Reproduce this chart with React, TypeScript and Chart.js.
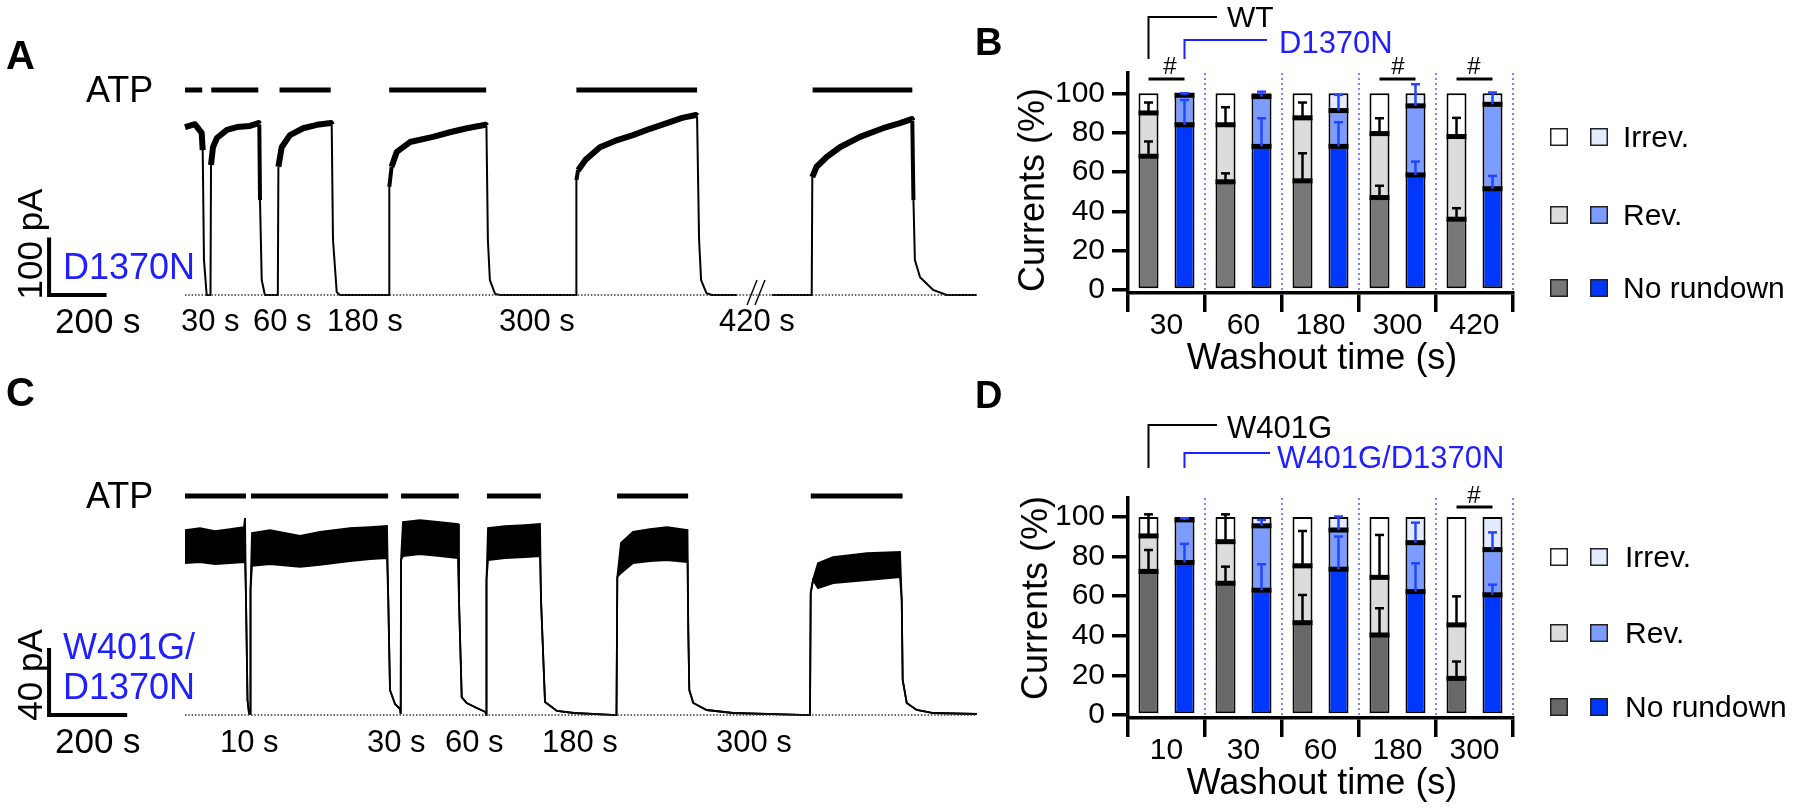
import React, { useEffect, useRef } from 'react';
import { Chart, registerables } from 'chart.js';

Chart.register(...registerables);

const FONT = "'Liberation Sans', Arial, Helvetica, sans-serif";
const BLUE_TEXT = '#1f1fff';

// ---------------- Panel A : D1370N current trace (time s, current pA) ----------------
const traceA: [number, number | null][] = [
  [0, 292], [34.8, 297], [58, 282], [61.6, 252], [66, 61], [75.5, 0], [88.7, 0], [90.5, 226], [97.4, 257],
  [111, 273], [146, 287], [181, 292], [226, 294], [256, 299], [258.6, 297], [261, 165], [267, 26], [278, 0],
  [323, 0], [325, 223], [336.5, 257], [365, 278], [411, 290], [459, 296], [508, 299], [510.5, 296], [515, 96],
  [528, 5], [539, 0], [710, 0], [711, 188], [719, 223], [737, 249], [783, 266], [863, 275], [922, 283],
  [981, 290], [1046, 296], [1049, 294], [1054, 96], [1061, 26], [1079, 2], [1096, 0], [1361, 0], [1362, 200],
  [1368, 217], [1394, 235], [1444, 257], [1496, 268], [1559, 278], [1618, 289], [1677, 299], [1730, 308],
  [1778, 313], [1782, 311], [1789, 96], [1796, 26], [1815, 3], [1834, 0], [1920, 0], [1980, null], [2042, 0],
  [2181, 0], [2183, 205], [2198, 223], [2233, 240], [2279, 257], [2349, 275], [2429, 290], [2488, 299],
  [2529, 306], [2531, 303], [2535, 165], [2540, 61], [2558, 31], [2603, 9], [2651, 0], [2755, 0],
];
const atpA: [number, number][] = [[0, 60], [91.5, 255], [329, 507], [710.6, 1048], [1362, 1782], [2184, 2531]];
const atpLevelA = 356.5;
const breakMarksA: [number, number][][] = [
  [[1956, -17.4], [1990.6, 26.1]],
  [[1983.6, -17.4], [2018.4, 26.1]],
];
const scaleBarA = { t0: -473, seconds: 200, pA: 100 };
const washoutLabelsA = ['30 s', '60 s', '180 s', '300 s', '420 s'];

// ---------------- Panel C : W401G/D1370N trace (time s, upper / lower envelope pA) ----------------
const traceC: [number, number, number][] = [
  [0, 110.4, 90.7], [38.4, 111.6, 91.3], [76.8, 109.8, 90.1], [115.2, 111, 90.7], [151, 112.2, 91.3],
  [153.6, 117.6, 92.5], [156.2, 68.7, 68.7], [160, 9, 9], [163.8, 1.2, 1.2], [166.4, 0.6, 0.6],
  [167.7, 74.6, 74.6], [171.5, 108.7, 89], [217.6, 110.4, 90.1], [294.4, 106.9, 88.4], [345.6, 109.3, 89.6],
  [422.4, 111.6, 91.9], [473.6, 112.2, 93.1], [517.1, 112.8, 93.7], [520.4, 68.7, 68.7], [524.8, 14.9, 14.9],
  [537.6, 6.6, 6.6], [550.4, 3.6, 3.6], [552.2, 0.6, 0.6], [553, 92.5, 92.5], [558, 115.2, 94.9],
  [601.6, 116.4, 96.1], [652.8, 115.2, 94.9], [698.9, 114, 93.7], [701.4, 68.7, 68.7], [708.4, 10.7, 10.7],
  [721.2, 7.2, 7.2], [746.8, 4.2, 4.2], [769.3, 1.8, 1.8], [770.6, 0, 0], [771.8, 80.6, 80.6],
  [775.7, 111.6, 92.5], [819.2, 112.8, 93.7], [870.4, 113.4, 94.3], [908.8, 114, 94.9], [911.4, 68.7, 68.7],
  [921.6, 7.8, 7.8], [952.3, 2.4, 2.4], [995.8, 1.2, 1.2], [1104.6, 0, 0], [1106.7, 82.4, 82.4],
  [1116.2, 102.7, 84.8], [1146.9, 109.3, 90.7], [1190.4, 111, 91.9], [1233.9, 112.2, 92.5], [1286.4, 110.4, 91.3],
  [1288.4, 50.7, 50.7], [1291, 14.9, 14.9], [1301.2, 7.2, 7.2], [1335.6, 3, 3], [1402.9, 1.2, 1.2],
  [1600, 0, 0], [1601.8, 72.8, 72.8], [1607.7, 80.6, 80.6], [1620.5, 90.7, 75.8], [1658.9, 94.3, 78.8],
  [1745.9, 96.7, 80.6], [1830.4, 97.3, 82.4], [1834.8, 68.7, 68.7], [1837.3, 20.9, 20.9], [1847.6, 7.2, 7.2],
  [1873.2, 3, 3], [1915.6, 1.2, 1.2], [2026.8, 0.6, 0.6],
];
const atpC: [number, number][] = [[0, 156], [169, 520], [553, 701], [773, 911], [1106, 1288], [1602, 1837]];
const atpLevelC = 130.7;
const scaleBarC = { t0: -348, seconds: 200, pA: 40 };
const washoutLabelsC = ['10 s', '30 s', '60 s', '180 s', '300 s'];

// ---------------- Panel B : WT vs D1370N (% of current) ----------------
const groupsB = ['30', '60', '180', '300', '420'];
const wtNoRundownB = [68, 55, 55.5, 47, 36];
const wtRevB = [22, 29, 32, 32.5, 42];
const wtIrrevB = [10, 16, 12.5, 20.5, 22];
const wtNoRundownErrB = [7.5, 4.3, 14, 6, 5.6];
const wtRevErrB = [5.3, 8.9, 7.8, 7.8, 9.5];
const mutNoRundownB = [84, 73, 73, 58.5, 51.5];
const mutRevB = [15, 25.3, 18.2, 35.1, 42.9];
const mutIrrevB = [1, 1.7, 8.8, 6.4, 5.6];
const mutNoRundownErrB = [12.6, 14.3, 12.3, 6.8, 6.5];
const mutRevErrB = [1, 2.5, 8, 11, 6];
const sigB = [0, 3, 4];

// ---------------- Panel D : W401G vs W401G/D1370N ----------------
const groupsD = ['10', '30', '60', '180', '300'];
const wtNoRundownD = [72.5, 66.5, 46.6, 40.4, 18.5];
const wtRevD = [17.9, 21, 28.7, 29.1, 27];
const wtIrrevD = [9.6, 12.5, 24.7, 30.5, 54.5];
const wtNoRundownErrD = [10.8, 8.4, 14, 13.5, 8.5];
const wtRevErrD = [10.9, 13.8, 17.6, 21.4, 14.4];
const mutNoRundownD = [77, 63, 73.6, 62.3, 60.7];
const mutRevD = [21.5, 32.5, 19.8, 24.7, 22.8];
const mutIrrevD = [1.5, 4.5, 6.6, 13, 16.5];
const mutNoRundownErrD = [9.4, 13.1, 16.5, 14.3, 5.1];
const mutRevErrD = [0.8, 3, 6.8, 10.1, 8.7];
const sigD = [4];

const yTicks = [0, 20, 40, 60, 80, 100];
const legendNames = ['Irrev.', 'Rev.', 'No rundown'];

// ---------------- styles ----------------
const WT_LIGHT = '#dcdcdc';
const MUT_NR = '#0037ff';
const MUT_REV = '#7d9cff';
const MUT_IRREV = '#e4ebff';
const SEP_BLUE = '#4d5cff';
const ERR_BLUE = '#2445ff';

type XY = { x: number; y: number | null };
const toXY = (arr: [number, number | null][]): XY[] => arr.map(([x, y]) => ({ x, y }));

function lineDs(data: XY[], extra: any = {}) {
  return {
    type: 'line',
    data,
    borderColor: '#000',
    borderWidth: 1.5,
    pointRadius: 0,
    fill: false,
    tension: 0,
    spanGaps: false,
    borderCapStyle: 'butt',
    ...extra,
  };
}

function traceOptions(xMin: number, xMax: number, yMin: number, yMax: number) {
  return {
    responsive: false,
    animation: false,
    events: [],
    layout: { padding: 0 },
    plugins: { legend: { display: false }, tooltip: { enabled: false } },
    scales: {
      x: { type: 'linear', display: false, min: xMin, max: xMax },
      y: { type: 'linear', display: false, min: yMin, max: yMax },
    },
  };
}

function configA() {
  const lastT = traceA[traceA.length - 1][0];
  const sb = scaleBarA;
  return {
    type: 'line',
    data: {
      datasets: [
        lineDs([{ x: 0, y: 0 }, { x: lastT, y: 0 }], { borderColor: '#333', borderWidth: 1.4, borderDash: [1.5, 1.8] }),
        lineDs(toXY(traceA), {
          borderWidth: 2,
          borderJoinStyle: 'round',
          segment: {
            borderWidth: (c: any) => (c.p0.parsed.y > 200 && c.p1.parsed.y > 200 ? 6 : c.p0.parsed.y > 150 && c.p1.parsed.y > 150 ? 4 : 2),
          },
        }),
        ...atpA.map(([s, e]) => lineDs([{ x: s, y: atpLevelA }, { x: e, y: atpLevelA }], { borderWidth: 5 })),
        lineDs([{ x: sb.t0, y: sb.pA }, { x: sb.t0, y: 0 }, { x: sb.t0 + sb.seconds, y: 0 }], {
          borderWidth: 4, borderJoinStyle: 'miter',
        }),
        ...breakMarksA.map((seg) => lineDs(toXY(seg), { borderWidth: 1.4 })),
      ],
    },
    options: traceOptions(-643.8, 2836.2, -147.8, 513),
  };
}

function configC() {
  const lastT = traceC[traceC.length - 1][0];
  const sb = scaleBarC;
  return {
    type: 'line',
    data: {
      datasets: [
        lineDs([{ x: 0, y: 0 }, { x: lastT, y: 0 }], { borderColor: '#333', borderWidth: 1.4, borderDash: [1.5, 1.8] }),
        lineDs(traceC.map(([t, u]) => ({ x: t, y: u })), { borderWidth: 1.8 }),
        lineDs(traceC.map(([t, , l]) => ({ x: t, y: l })), { borderWidth: 1.8, fill: '-1', backgroundColor: '#000' }),
        ...atpC.map(([s, e]) => lineDs([{ x: s, y: atpLevelC }, { x: e, y: atpLevelC }], { borderWidth: 5 })),
        lineDs([{ x: sb.t0, y: sb.pA }, { x: sb.t0, y: 0 }, { x: sb.t0 + sb.seconds, y: 0 }], {
          borderWidth: 4, borderJoinStyle: 'miter',
        }),
      ],
    },
    options: traceOptions(-473.6, 2086.4, -56.1, 200),
  };
}

type Stack = { nr: number[]; rev: number[]; irrev: number[]; nrErr: number[]; revErr: number[] };
type BarPanel = {
  groups: string[];
  wt: Stack;
  mut: Stack;
  sig: number[];
  greyDark: string;
  canvasTop: number;
  padTop: number;
  axisH: number;
  yMax: number;
  wtBracketY: number;
  mutBracketY: number;
  bracketBottom: number;
  wtBracketEnd: number;
  mutBracketEnd: number;
  sigY: number;
  legendY: number[];
};

const BD_LEFT = 960;

function barConfig(p: BarPanel) {
  const wtColors = ['#ffffff', WT_LIGHT, p.greyDark];
  const mutColors = [MUT_IRREV, MUT_REV, MUT_NR];
  const common = {
    borderColor: '#000',
    borderWidth: 2,
    borderSkipped: false,
    categoryPercentage: 0.935,
    barPercentage: 0.556,
  };
  const extras = {
    id: 'barExtras',
    beforeDatasetsDraw(chart: any) {
      const { ctx, chartArea, scales } = chart;
      const x = scales.x;
      const y = scales.y;
      ctx.save();
      ctx.strokeStyle = SEP_BLUE;
      ctx.lineWidth = 1.5;
      ctx.setLineDash([2, 3]);
      for (let i = 0; i < p.groups.length; i++) {
        const xp = x.getPixelForValue(i + 0.5);
        ctx.beginPath();
        ctx.moveTo(xp, y.getPixelForValue(0));
        ctx.lineTo(xp, chartArea.top);
        ctx.stroke();
      }
      ctx.restore();
    },
    afterDatasetsDraw(chart: any) {
      const { ctx, scales } = chart;
      const y = scales.y;
      const top = p.canvasTop;
      ctx.save();
      ctx.lineCap = 'butt';
      const stacks: [Stack, number, string][] = [[p.wt, 0, '#000'], [p.mut, 3, ERR_BLUE]];
      // thick boundaries between stacked segments
      for (const [s, base] of stacks) {
        const meta = chart.getDatasetMeta(base);
        for (let i = 0; i < p.groups.length; i++) {
          const el = meta.data[i];
          const half = el.width / 2;
          for (const v of [s.nr[i], s.nr[i] + s.rev[i]]) {
            const yy = y.getPixelForValue(v);
            ctx.fillStyle = '#000';
            ctx.fillRect(el.x - half, yy - 2.5, half * 2, 5);
          }
        }
      }
      for (const [s, base, col] of stacks) {
        const meta = chart.getDatasetMeta(base);
        for (let i = 0; i < p.groups.length; i++) {
          const xc = meta.data[i].x;
          const segs = [
            [s.nr[i], s.nrErr[i]],
            [s.nr[i] + s.rev[i], s.revErr[i]],
          ];
          for (const [v, e] of segs) {
            const y0 = y.getPixelForValue(v);
            const y1 = y.getPixelForValue(v + e);
            ctx.strokeStyle = col;
            ctx.lineWidth = 2.5;
            ctx.beginPath();
            ctx.moveTo(xc, y0);
            ctx.lineTo(xc, y1);
            ctx.stroke();
            ctx.beginPath();
            ctx.moveTo(xc - 4.5, y1);
            ctx.lineTo(xc + 4.5, y1);
            ctx.stroke();
          }
        }
      }
      // group brackets
      const xw = chart.getDatasetMeta(0).data[0].x;
      const xm = chart.getDatasetMeta(3).data[0].x;
      ctx.lineWidth = 2;
      ctx.strokeStyle = '#000';
      ctx.beginPath();
      ctx.moveTo(xw, p.bracketBottom - top);
      ctx.lineTo(xw, p.wtBracketY - top);
      ctx.lineTo(p.wtBracketEnd - BD_LEFT, p.wtBracketY - top);
      ctx.stroke();
      ctx.strokeStyle = BLUE_TEXT;
      ctx.beginPath();
      ctx.moveTo(xm, p.bracketBottom - top);
      ctx.lineTo(xm, p.mutBracketY - top);
      ctx.lineTo(p.mutBracketEnd - BD_LEFT, p.mutBracketY - top);
      ctx.stroke();
      // significance bars
      ctx.strokeStyle = '#000';
      ctx.lineWidth = 3;
      for (const g of p.sig) {
        const a = chart.getDatasetMeta(0).data[g].x;
        const b = chart.getDatasetMeta(3).data[g].x;
        ctx.beginPath();
        ctx.moveTo(a, p.sigY - top);
        ctx.lineTo(b, p.sigY - top);
        ctx.stroke();
      }
      // legend squares
      ctx.lineWidth = 1.5;
      ctx.strokeStyle = '#222';
      for (let r = 0; r < 3; r++) {
        const cy = p.legendY[r] - top;
        const cols = [wtColors[r], mutColors[r]];
        const xs = [1550, 1590];
        for (let k = 0; k < 2; k++) {
          ctx.fillStyle = cols[k];
          ctx.fillRect(xs[k] - BD_LEFT, cy - 9, 18, 18);
          ctx.strokeRect(xs[k] - BD_LEFT + 0.75, cy - 9 + 0.75, 16.5, 16.5);
        }
      }
      ctx.restore();
    },
  };
  return {
    type: 'bar',
    data: {
      labels: p.groups,
      datasets: [
        { label: 'WT No rundown', data: p.wt.nr, stack: 'wt', backgroundColor: p.greyDark, ...common },
        { label: 'WT Rev.', data: p.wt.rev, stack: 'wt', backgroundColor: WT_LIGHT, ...common },
        { label: 'WT Irrev.', data: p.wt.irrev, stack: 'wt', backgroundColor: '#ffffff', ...common },
        { label: 'Mut No rundown', data: p.mut.nr, stack: 'mut', backgroundColor: MUT_NR, ...common },
        { label: 'Mut Rev.', data: p.mut.rev, stack: 'mut', backgroundColor: MUT_REV, ...common },
        { label: 'Mut Irrev.', data: p.mut.irrev, stack: 'mut', backgroundColor: MUT_IRREV, ...common },
      ],
    },
    options: {
      responsive: false,
      animation: false,
      events: [],
      layout: { padding: { top: p.padTop, right: 287, left: 0, bottom: 0 } },
      plugins: { legend: { display: false }, tooltip: { enabled: false } },
      scales: {
        x: {
          stacked: true,
          afterFit: (s: any) => { s.height = p.axisH; },
          border: { display: true, width: 3.5, color: '#000' },
          grid: {
            offset: true, drawOnChartArea: false, drawTicks: true, tickLength: 19,
            tickWidth: 3.5, tickColor: '#000', color: '#000', lineWidth: 3.5,
          },
          ticks: { font: { family: FONT, size: 30 }, color: '#000', padding: -4, maxRotation: 0, autoSkip: false },
        },
        y: {
          stacked: true,
          min: -1.5,
          max: p.yMax,
          afterFit: (s: any) => { s.width = 168; },
          afterBuildTicks: (s: any) => { s.ticks = yTicks.map((v) => ({ value: v })); },
          border: { display: true, width: 3.5, color: '#000' },
          grid: {
            drawOnChartArea: false, drawTicks: true, tickLength: 16,
            tickWidth: 3.5, tickColor: '#000', color: '#000', lineWidth: 3.5,
          },
          ticks: { font: { family: FONT, size: 30 }, color: '#000', padding: 7 },
        },
      },
    },
    plugins: [extras],
  };
}

const panelB: BarPanel = {
  groups: groupsB,
  wt: { nr: wtNoRundownB, rev: wtRevB, irrev: wtIrrevB, nrErr: wtNoRundownErrB, revErr: wtRevErrB },
  mut: { nr: mutNoRundownB, rev: mutRevB, irrev: mutIrrevB, nrErr: mutNoRundownErrB, revErr: mutRevErrB },
  sig: sigB,
  greyDark: '#787878',
  canvasTop: 0, padTop: 73, axisH: 87, yMax: 110.3,
  wtBracketY: 17, mutBracketY: 40, bracketBottom: 59, wtBracketEnd: 1217, mutBracketEnd: 1267,
  sigY: 79, legendY: [137, 215, 288],
};

const panelD: BarPanel = {
  groups: groupsD,
  wt: { nr: wtNoRundownD, rev: wtRevD, irrev: wtIrrevD, nrErr: wtNoRundownErrD, revErr: wtRevErrD },
  mut: { nr: mutNoRundownD, rev: mutRevD, irrev: mutIrrevD, nrErr: mutNoRundownErrD, revErr: mutRevErrD },
  sig: sigD,
  greyDark: '#686868',
  canvasTop: 380, padTop: 117.5, axisH: 91, yMax: 109.8,
  wtBracketY: 425, mutBracketY: 453, bracketBottom: 468, wtBracketEnd: 1217, mutBracketEnd: 1270,
  sigY: 507, legendY: [557, 633, 707],
};

function ChartCanvas({ left, top, width, height, make }: { left: number; top: number; width: number; height: number; make: () => any }) {
  const ref = useRef<HTMLCanvasElement | null>(null);
  useEffect(() => {
    const chart = new Chart(ref.current as HTMLCanvasElement, make());
    return () => chart.destroy();
  }, []);
  return (
    <canvas
      ref={ref}
      width={width}
      height={height}
      style={{ position: 'absolute', left, top, width, height }}
    />
  );
}

type Lbl = { text: string; x: number; y: number; size: number; color?: string; bold?: boolean; center?: boolean; rotate?: boolean };

function Label({ l }: { l: Lbl }) {
  const tx = l.rotate || l.center ? '-50%' : '0';
  return (
    <div
      style={{
        position: 'absolute',
        left: l.x,
        top: l.y,
        fontFamily: FONT,
        fontSize: l.size,
        lineHeight: 1,
        color: l.color || '#000',
        fontWeight: l.bold ? 700 : 400,
        whiteSpace: 'nowrap',
        transform: `translate(${tx}, -50%)${l.rotate ? ' rotate(-90deg)' : ''}`,
      }}
    >
      {l.text}
    </div>
  );
}

const washoutXA = [181, 253, 327, 499, 719];
const washoutXC = [220, 367, 445, 542, 716];
const sigXB = [1170, 1398, 1474];
const sigXD = [1474];

const labels: Lbl[] = [
  { text: 'A', x: 6, y: 55, size: 40, bold: true },
  { text: 'ATP', x: 86, y: 90, size: 36 },
  { text: '100 pA', x: 29, y: 244, size: 35, rotate: true },
  { text: 'D1370N', x: 63, y: 267, size: 36, color: BLUE_TEXT },
  { text: '200 s', x: 55, y: 320, size: 35 },
  ...washoutLabelsA.map((t, i) => ({ text: t, x: washoutXA[i], y: 320, size: 31 })),

  { text: 'C', x: 6, y: 392, size: 40, bold: true },
  { text: 'ATP', x: 86, y: 496, size: 36 },
  { text: '40 pA', x: 29, y: 675, size: 35, rotate: true },
  { text: 'W401G/', x: 63, y: 647, size: 36, color: BLUE_TEXT },
  { text: 'D1370N', x: 63, y: 687, size: 36, color: BLUE_TEXT },
  { text: '200 s', x: 55, y: 740, size: 35 },
  ...washoutLabelsC.map((t, i) => ({ text: t, x: washoutXC[i], y: 741, size: 31 })),

  { text: 'B', x: 975, y: 42, size: 38, bold: true },
  { text: 'WT', x: 1227, y: 17, size: 30 },
  { text: 'D1370N', x: 1279, y: 42, size: 31, color: BLUE_TEXT },
  ...sigXB.map((x) => ({ text: '#', x, y: 66, size: 24, center: true })),
  { text: 'Currents (%)', x: 1032, y: 190, size: 36, rotate: true },
  { text: 'Washout time (s)', x: 1322, y: 357, size: 36, center: true },
  ...legendNames.map((t, i) => ({ text: t, x: 1623, y: panelB.legendY[i], size: 30 })),

  { text: 'D', x: 975, y: 395, size: 38, bold: true },
  { text: 'W401G', x: 1227, y: 427, size: 31 },
  { text: 'W401G/D1370N', x: 1277, y: 457, size: 31, color: BLUE_TEXT },
  ...sigXD.map((x) => ({ text: '#', x, y: 495, size: 24, center: true })),
  { text: 'Currents (%)', x: 1035, y: 598, size: 36, rotate: true },
  { text: 'Washout time (s)', x: 1322, y: 782, size: 36, center: true },
  ...legendNames.map((t, i) => ({ text: t, x: 1625, y: panelD.legendY[i], size: 30 })),
];

export default function App() {
  return (
    <div style={{ position: 'absolute', left: 0, top: 0, width: 1800, height: 809, background: '#fff', overflow: 'hidden' }}>
      <ChartCanvas left={0} top={0} width={1000} height={380} make={configA} />
      <ChartCanvas left={0} top={380} width={1000} height={429} make={configC} />
      <ChartCanvas left={BD_LEFT} top={0} width={840} height={380} make={() => barConfig(panelB)} />
      <ChartCanvas left={BD_LEFT} top={380} width={840} height={429} make={() => barConfig(panelD)} />
      {labels.map((l, i) => (
        <Label key={i} l={l} />
      ))}
    </div>
  );
}
